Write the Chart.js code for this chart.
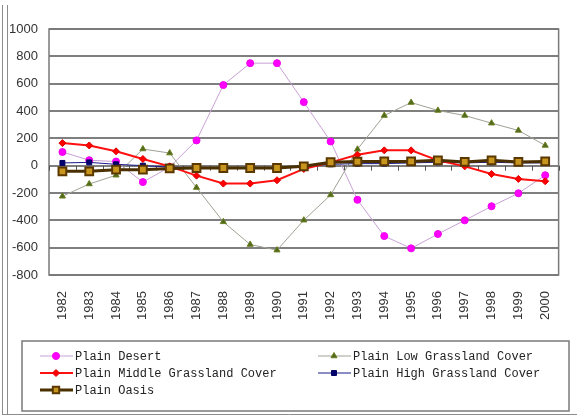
<!DOCTYPE html>
<html>
<head>
<meta charset="utf-8">
<script src="https://cdn.jsdelivr.net/npm/chart.js@4/dist/chart.umd.min.js"></script>
<style>
html,body{margin:0;padding:0;background:#fff;}
canvas{display:block;}
</style>
</head>
<body>
<canvas id="c" width="577" height="417"></canvas>
<script>
const years = ['1982','1983','1984','1985','1986','1987','1988','1989','1990','1991','1992','1993','1994','1995','1996','1997','1998','1999','2000'];
const yTicks = [1000, 800, 600, 400, 200, 0, -200, -400, -600, -800];
const seriesNames = ['Plain Desert','Plain Low Grassland Cover','Plain Middle Grassland Cover','Plain High Grassland Cover','Plain Oasis'];
const plainDesert = [100, 40, 30, -120, -10, 185, 590, 750, 750, 465, 177, -250, -515, -605, -500, -400, -297, -202, -70];
const plainLowGrass = [-224, -134, -70, 122, 92, -160, -411, -577, -618, -399, -214, 120, 367, 462, 404, 367, 311, 258, 148];
const plainMidGrass = [165, 148, 105, 49, -5, -73, -131, -131, -107, -24, 24, 80, 112, 112, 39, -5, -61, -97, -114];
const plainHighGrass = [20, 24, 10, 0, -10, -15, -15, -15, -15, -5, 10, 15, 15, 20, 25, 20, 25, 20, 20];
const plainOasis = [-41, -41, -29, -29, -20, -17, -17, -17, -17, -5, 25, 30, 31, 31, 39, 27, 39, 27, 31];

const axisFont = {family: "'Liberation Sans Narrow', 'Liberation Sans', Arial, sans-serif", size: 13};

const datasets = [
  {label: seriesNames[0], data: plainDesert, borderColor: '#c8a2d6', borderWidth: 1,
   pointStyle: 'circle', pointRadius: 3.5, pointBackgroundColor: '#ff00ff', pointBorderColor: '#ee00ee', pointBorderWidth: 1, order: 4},
  {label: seriesNames[1], data: plainLowGrass, borderColor: '#9ea394', borderWidth: 1,
   pointStyle: 'triangle', pointRadius: 3.5, pointBackgroundColor: '#4f6a1c', pointBorderColor: '#6b7d20', pointBorderWidth: 1, order: 3},
  {label: seriesNames[2], data: plainMidGrass, borderColor: '#ff1010', borderWidth: 2,
   pointStyle: 'rectRot', pointRadius: 3.5, pointBackgroundColor: '#ff0000', pointBorderColor: '#e00000', pointBorderWidth: 1, order: 1},
  {label: seriesNames[3], data: plainHighGrass, borderColor: '#1a1a8c', borderWidth: 1,
   pointStyle: 'rect', pointRadius: 3.5, pointBackgroundColor: '#000070', pointBorderColor: '#000060', pointBorderWidth: 1, order: 2},
  {label: seriesNames[4], data: plainOasis, borderColor: '#4a3000', borderWidth: 3,
   pointStyle: 'rect', pointRadius: 5.5, pointBackgroundColor: '#c8961e', pointBorderColor: '#5a3800', pointBorderWidth: 2, order: 0}
];
datasets.forEach(d => { d.fill = false; d.tension = 0; d.backgroundColor = d.borderColor; });

const framePlugin = {
  id: 'frame',
  beforeDraw(chart) {
    const ctx = chart.ctx;
    ctx.save();
    ctx.fillStyle = '#fff';
    ctx.fillRect(0, 0, chart.width, chart.height);
    ctx.strokeStyle = '#8c8c8c';
    ctx.lineWidth = 1;
    ctx.beginPath();
    ctx.moveTo(2.5, 5); ctx.lineTo(2.5, 414.5);
    ctx.moveTo(7.5, 5); ctx.lineTo(7.5, 414.5);
    ctx.moveTo(2, 414.5); ctx.lineTo(577, 414.5);
    ctx.stroke();
    ctx.restore();
  },
  beforeDatasetsDraw(chart) {
    const ctx = chart.ctx, a = chart.chartArea;
    const xs = chart.scales.x, ys = chart.scales.y;
    ctx.save();
    ctx.strokeStyle = '#7a7a7a';
    ctx.lineWidth = 1.5;
    ctx.strokeRect(a.left, a.top, a.right - a.left, a.bottom - a.top);
    const y0 = ys.getPixelForValue(0);
    const step = xs.getPixelForValue(1) - xs.getPixelForValue(0);
    ctx.strokeStyle = '#555';
    ctx.lineWidth = 1;
    ctx.beginPath();
    for (let i = 0; i <= years.length; i++) {
      const x = Math.round(xs.getPixelForValue(i) - step / 2) + 0.5;
      ctx.moveTo(x, y0); ctx.lineTo(x, y0 + 5);
    }
    ctx.stroke();
    ctx.restore();
  },
  afterDraw(chart) {
    const ctx = chart.ctx;
    ctx.save();
    ctx.strokeStyle = '#7a7a7a';
    ctx.lineWidth = 1.5;
    ctx.strokeRect(22, 341, 547, 70);
    const cols = [40, 318];
    const rows = [356, 373, 390];
    ctx.font = "12px 'Liberation Mono', 'DejaVu Sans Mono', monospace";
    ctx.textBaseline = 'middle';
    chart.data.datasets.forEach((ds, i) => {
      const x = cols[i % 2], y = rows[Math.floor(i / 2)];
      ctx.strokeStyle = ds.borderColor;
      ctx.lineWidth = ds.borderWidth;
      ctx.beginPath();
      ctx.moveTo(x, y); ctx.lineTo(x + 33, y);
      ctx.stroke();
      ctx.fillStyle = ds.pointBackgroundColor;
      ctx.strokeStyle = ds.pointBorderColor;
      ctx.lineWidth = ds.pointBorderWidth;
      Chart.helpers.drawPoint(ctx, {pointStyle: ds.pointStyle, radius: Math.min(ds.pointRadius, 4.5), rotation: 0, borderWidth: ds.pointBorderWidth}, x + 16, y);
      ctx.fillStyle = '#222';
      ctx.fillText(ds.label, x + 35, y + 1);
    });
    ctx.restore();
  }
};

new Chart(document.getElementById('c'), {
  type: 'line',
  data: {labels: years, datasets: datasets},
  options: {
    responsive: false,
    animation: false,
    devicePixelRatio: 1,
    layout: {padding: {left: 0, right: 2, top: 29, bottom: 0}},
    plugins: {legend: {display: false}, tooltip: {enabled: false}},
    scales: {
      x: {
        type: 'category',
        offset: true,
        grid: {display: false, drawTicks: false},
        border: {display: false},
        ticks: {color: '#333', font: axisFont, minRotation: 90, maxRotation: 90, padding: 16, autoSkip: false},
        afterFit(scale) { scale.height = 142; }
      },
      y: {
        min: -800, max: 1000,
        afterBuildTicks(scale) { scale.ticks = yTicks.map(v => ({value: v})); },
        grid: {color: '#7f7f7f', lineWidth: 2, drawTicks: false},
        border: {display: false},
        ticks: {color: '#333', font: axisFont, padding: 11, callback: (v) => String(v)},
        afterFit(scale) { scale.width = 49; }
      }
    }
  },
  plugins: [framePlugin]
});
</script>
</body>
</html>
